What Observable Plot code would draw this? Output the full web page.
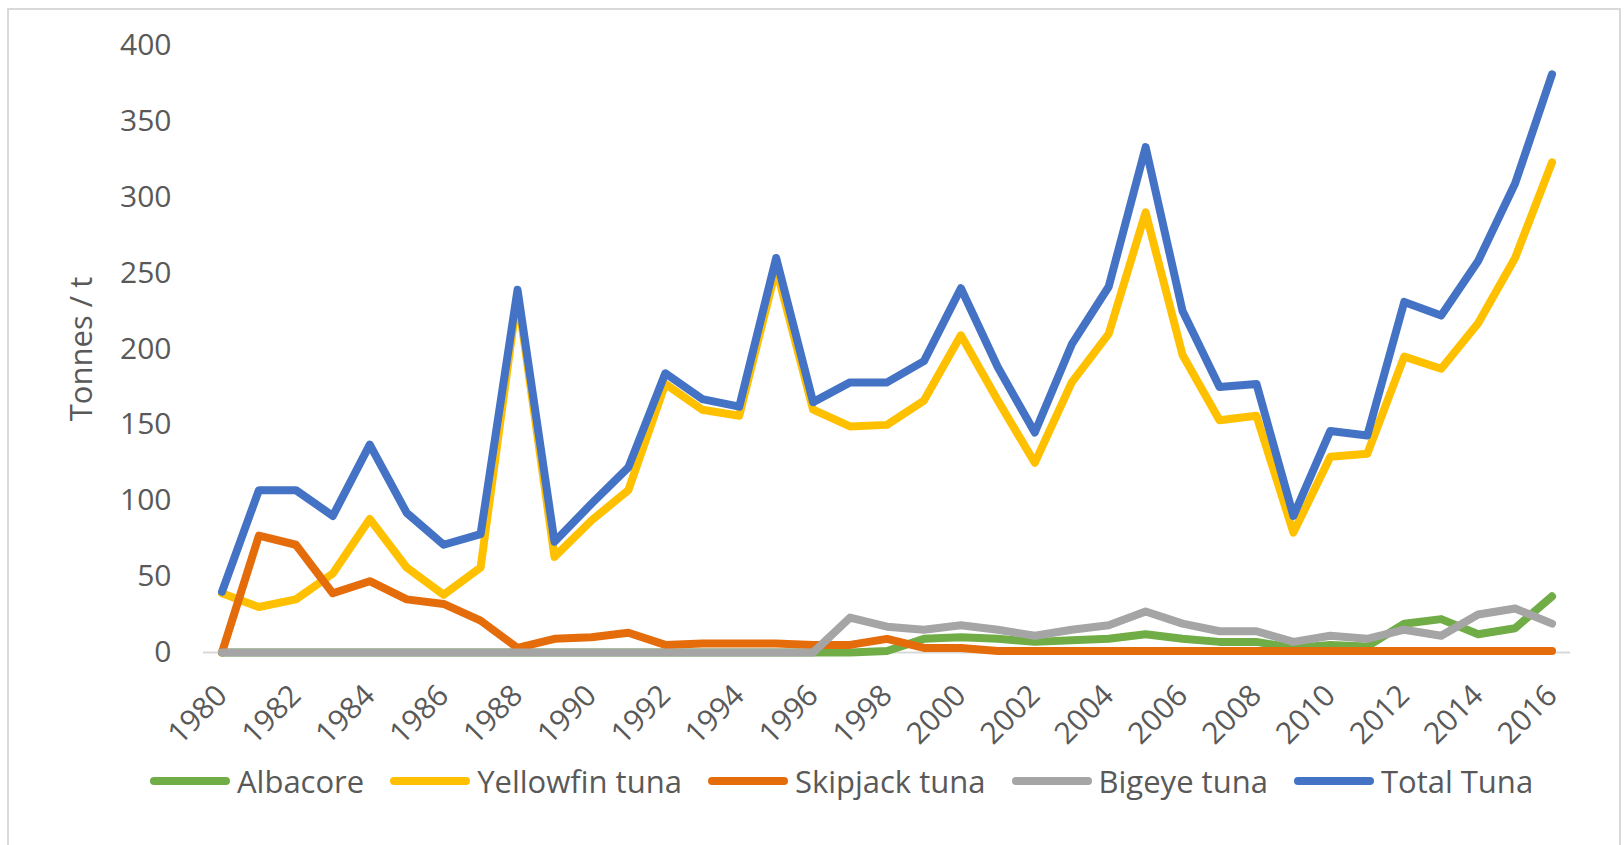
<!DOCTYPE html>
<html>
<head>
<meta charset="utf-8">
<script src="https://cdn.jsdelivr.net/npm/d3@7"></script>
<script src="https://cdn.jsdelivr.net/npm/@observablehq/plot@0.6"></script>
<style>
  html, body { margin: 0; padding: 0; background: #fff; }
  body { width: 1624px; height: 845px; position: relative; overflow: hidden; font-family: "Open Sans", sans-serif; }
  #frame { position: absolute; left: 7px; top: 8px; width: 1610px; height: 860px; border: 2px solid #D9D9D9; border-bottom: none; }
  #chart { position: absolute; left: 0; top: 0; }
  #legend { position: absolute; left: 150px; top: 760px; display: flex; align-items: center; color: #595959; font-size: 31px; font-family: "Open Sans", sans-serif; }
  .item { display: flex; align-items: center; margin-right: 26px; }
  .sw { width: 80px; height: 8px; border-radius: 4px; margin-right: 7px; }
</style>
</head>
<body>
<div id="frame"></div>
<div id="chart"></div>
<div id="legend"></div>
<script>
const years = [1980,1981,1982,1983,1984,1985,1986,1987,1988,1989,1990,1991,1992,1993,1994,1995,1996,1997,1998,1999,2000,2001,2002,2003,2004,2005,2006,2007,2008,2009,2010,2011,2012,2013,2014,2015,2016];
const tickYears = [1980,1982,1984,1986,1988,1990,1992,1994,1996,1998,2000,2002,2004,2006,2008,2010,2012,2014,2016];
const yTicks = [0,50,100,150,200,250,300,350,400];
const seriesNames = ["Albacore","Yellowfin tuna","Skipjack tuna","Bigeye tuna","Total Tuna"];
const seriesColors = ["#70AD47","#FFC000","#E46C0A","#A5A5A5","#4472C4"];
const albacore  = [0,0,0,0,0,0,0,0,0,0,0,0,0,0,0,0,0,0,1,9,10,9,7,8,9,12,9,7,7,3,5,4,19,22,12,16,37];
const yellowfin = [39,30,35,52,88,56,38,56,236,63,87,107,177,160,156,253,160,149,150,166,209,166,125,178,210,290,196,153,156,79,129,131,195,187,217,260,323];
const skipjack  = [0,77,71,39,47,35,32,21,3,9,10,13,5,6,6,6,5,5,9,3,3,1,1,1,1,1,1,1,1,1,1,1,1,1,1,1,1];
const bigeye    = [0,0,0,0,0,0,0,0,0,0,0,0,0,0,0,0,0,23,17,15,18,15,11,15,18,27,19,14,14,7,11,9,15,11,25,29,19];
const total     = [40,107,107,90,137,92,71,78,239,73,98,122,184,167,162,260,165,178,178,192,240,188,145,203,241,333,225,175,177,90,146,143,231,222,258,309,381];
const yLabel = "Tonnes / t";

const seriesValues = [albacore, yellowfin, skipjack, bigeye, total];
const rows = [];
seriesNames.forEach((name, s) => {
  years.forEach((yr, i) => rows.push({series: name, year: yr, value: seriesValues[s][i]}));
});

const chart = Plot.plot({
  width: 1624,
  height: 760,
  marginLeft: 203,
  marginRight: 54,
  marginTop: 45,
  marginBottom: 108,
  style: {background: "transparent", fontFamily: "Open Sans, sans-serif", fontSize: "30px", color: "#595959"},
  x: {type: "point", domain: years, padding: 0.5},
  y: {domain: [0, 400]},
  color: {domain: seriesNames, range: seriesColors},
  marks: [
    Plot.axisY({ticks: yTicks, tickSize: 0, tickPadding: 32, label: null, fill: "#595959", fontSize: 30}),
    Plot.axisX({ticks: tickYears, tickFormat: d => String(d), tickSize: 0, tickPadding: 38, tickRotate: -45, label: null, fill: "#595959", fontSize: 30}),
    Plot.text([yLabel], {frameAnchor: "left", textAnchor: "middle", dx: -121, rotate: -90, text: d => d, fill: "#595959", fontSize: 31}),
    Plot.ruleY([0], {stroke: "#D9D9D9", strokeWidth: 2}),
    Plot.line(rows, {x: "year", y: "value", z: "series", stroke: "series", strokeWidth: 8, strokeLinecap: "round", strokeLinejoin: "round"})
  ]
});
document.getElementById("chart").appendChild(chart);

const legend = document.getElementById("legend");
seriesNames.forEach((name, i) => {
  const item = document.createElement("div");
  item.className = "item";
  const sw = document.createElement("div");
  sw.className = "sw";
  sw.style.background = seriesColors[i];
  const t = document.createElement("span");
  t.textContent = name;
  item.appendChild(sw);
  item.appendChild(t);
  legend.appendChild(item);
});
</script>
</body>
</html>
